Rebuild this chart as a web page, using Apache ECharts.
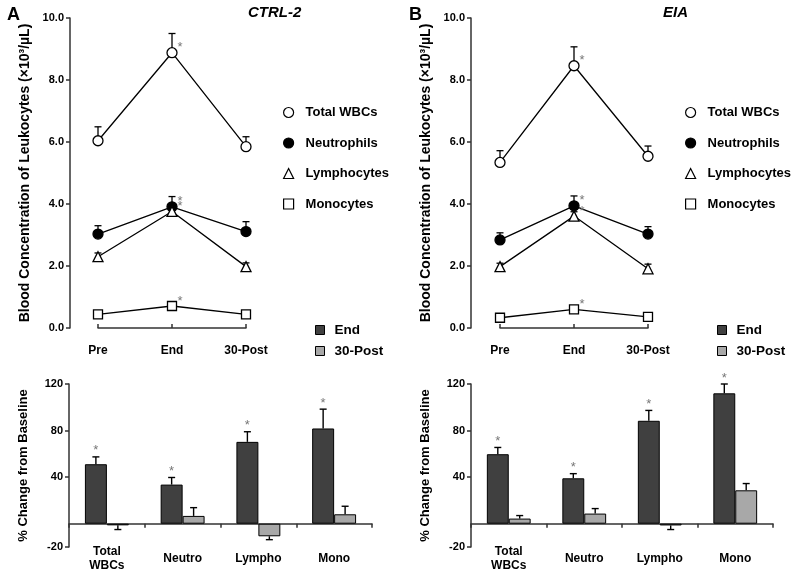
<!DOCTYPE html>
<html><head><meta charset="utf-8">
<script src="https://cdn.jsdelivr.net/npm/echarts@6/dist/echarts.min.js"></script>
<style>html,body{margin:0;padding:0;background:#fff}#c{width:800px;height:578px}</style>
</head><body><div id="c"></div>
<script>
// ---------- data ----------
const timeCats = ['Pre', 'End', '30-Post'];
const lineNames = ['Total WBCs', 'Neutrophils', 'Lymphocytes', 'Monocytes'];
// CTRL-2 (x10^3/uL): means and top of error bars
const ctrlTotal = [6.04, 8.88, 5.85];
const ctrlTotalErr = [6.49, 9.50, 6.17];
const ctrlNeutro = [3.03, 3.91, 3.11];
const ctrlNeutroErr = [3.30, 4.24, 3.43];
const ctrlLympho = [2.30, 3.76, 1.98];
const ctrlLymphoErr = [2.42, 3.88, 2.10];
const ctrlMono = [0.44, 0.71, 0.44];
const ctrlMonoErr = [0.50, 0.78, 0.50];
// EIA
const eiaTotal = [5.34, 8.46, 5.54];
const eiaTotalErr = [5.72, 9.07, 5.87];
const eiaNeutro = [2.84, 3.94, 3.03];
const eiaNeutroErr = [3.07, 4.26, 3.27];
const eiaLympho = [1.98, 3.61, 1.91];
const eiaLymphoErr = [2.09, 3.75, 2.06];
const eiaMono = [0.33, 0.60, 0.36];
const eiaMonoErr = [0.38, 0.66, 0.41];
const lineStarCats = [1]; // significant time points (End)

// % change from baseline
const barCats = ['Total\nWBCs', 'Neutro', 'Lympho', 'Mono'];
const barNames = ['End', '30-Post'];
const ctrlEnd = [51.1, 33.6, 70.3, 81.8];
const ctrlEndErr = [57.4, 39.7, 79.0, 98.4];
const ctrlPost = [-1.4, 6.7, -10.8, 8.1];
const ctrlPostErr = [-5.0, 13.8, -13.7, 15.0];
const eiaEnd = [59.7, 39.0, 88.4, 112.0];
const eiaEndErr = [65.5, 43.0, 97.3, 120.0];
const eiaPost = [4.4, 8.7, -1.5, 28.7];
const eiaPostErr = [7.0, 13.0, -5.0, 34.5];
const barStarCats = [0, 1, 2, 3];
const barTickValues = [-20, 40, 80, 120];

// ---------- styling ----------
const FF = 'Liberation Sans, Arial, Helvetica, sans-serif';
const AX = '#333';
const BAR_FRAC = 0.29;
const markerStyles = [
  { symbol: 'circle', size: 10, color: '#fff' },
  { symbol: 'circle', size: 10, color: '#000' },
  { symbol: 'triangle', size: 10, color: '#fff' },
  { symbol: 'rect', size: 9, color: '#fff' }
];

function errLine(params, api) {
  const p = api.coord([api.value(0), api.value(1)]);
  const t = api.coord([api.value(0), api.value(2)]);
  const hw = 3.5;
  const st = { stroke: '#000', lineWidth: 1.3 };
  return { type: 'group', children: [
    { type: 'line', shape: { x1: p[0], y1: p[1], x2: t[0], y2: t[1] }, style: st },
    { type: 'line', shape: { x1: t[0] - hw, y1: t[1], x2: t[0] + hw, y2: t[1] }, style: st }
  ]};
}
function errBar(side) {
  return function (params, api) {
    const c = api.coord([api.value(0), api.value(1)]);
    const t = api.coord([api.value(0), api.value(2)]);
    const bw = api.size([1, 0])[0] * BAR_FRAC;
    const x = c[0] + side * bw / 2;
    const hw = 3.5;
    const st = { stroke: '#000', lineWidth: 1.4 };
    return { type: 'group', children: [
      { type: 'line', shape: { x1: x, y1: c[1], x2: x, y2: t[1] }, style: st },
      { type: 'line', shape: { x1: x - hw, y1: t[1], x2: x + hw, y2: t[1] }, style: st }
    ]};
  };
}
function starLine(params, api) {
  const p = api.coord([api.value(0), api.value(1)]);
  return { type: 'text', x: p[0] + 8, y: p[1] - 5,
    style: { text: '*', fill: '#777', font: '13px ' + FF, align: 'center', verticalAlign: 'middle' } };
}
function starBar(params, api) {
  const c = api.coord([api.value(0), api.value(1)]);
  const bw = api.size([1, 0])[0] * BAR_FRAC;
  return { type: 'text', x: c[0] - bw / 2, y: c[1] - 6,
    style: { text: '*', fill: '#777', font: '13px ' + FF, align: 'center', verticalAlign: 'middle' } };
}

function lineSeries(gi, vals, errs) {
  const out = [];
  vals.forEach((v, k) => {
    out.push({
      type: 'custom', xAxisIndex: gi, yAxisIndex: gi, z: 1, silent: true,
      renderItem: errLine, encode: { x: 0, y: [1, 2] },
      data: v.map((d, i) => [i, d, errs[k][i]])
    });
    const m = markerStyles[k];
    out.push({
      type: 'line', name: lineNames[k], xAxisIndex: gi, yAxisIndex: gi, z: 3,
      data: v, symbol: m.symbol, symbolSize: m.size, showAllSymbol: true,
      lineStyle: { color: '#000', width: 1.3 },
      itemStyle: { color: m.color, borderColor: '#000', borderWidth: 1.3, opacity: 1 },
      emphasis: { disabled: true }, animation: false
    });
    out.push({
      type: 'custom', xAxisIndex: gi, yAxisIndex: gi, z: 4, silent: true,
      renderItem: starLine, encode: { x: 0, y: 1 },
      data: lineStarCats.map(i => [i, v[i]])
    });
  });
  return out;
}
function barSeries(gi, end, endErr, post, postErr) {
  return [
    { type: 'bar', name: 'End', xAxisIndex: gi, yAxisIndex: gi, data: end,
      barWidth: (BAR_FRAC * 100) + '%', barGap: '0%',
      itemStyle: { color: '#404040', borderColor: '#000', borderWidth: 1 }, z: 2, animation: false },
    { type: 'bar', name: '30-Post', xAxisIndex: gi, yAxisIndex: gi, data: post,
      barWidth: (BAR_FRAC * 100) + '%', barGap: '0%',
      itemStyle: { color: '#a8a8a8', borderColor: '#000', borderWidth: 1 }, z: 2, animation: false },
    { type: 'custom', xAxisIndex: gi, yAxisIndex: gi, z: 1, silent: true, renderItem: errBar(-1),
      encode: { x: 0, y: [1, 2] }, data: end.map((d, i) => [i, d, endErr[i]]) },
    { type: 'custom', xAxisIndex: gi, yAxisIndex: gi, z: 1, silent: true, renderItem: errBar(1),
      encode: { x: 0, y: [1, 2] }, data: post.map((d, i) => [i, d, postErr[i]]) },
    { type: 'custom', xAxisIndex: gi, yAxisIndex: gi, z: 4, silent: true, renderItem: starBar,
      encode: { x: 0, y: 1 }, data: barStarCats.map(i => [i, endErr[i]]) }
  ];
}

const lbl = { color: '#000', fontFamily: FF, fontWeight: 'bold' };
function topX(gi) {
  return { gridIndex: gi, type: 'category', data: timeCats, boundaryGap: false, offset: 8,
    axisLine: { show: true, lineStyle: { color: AX, width: 1.5 } },
    axisTick: { show: true, inside: true, length: 4, lineStyle: { color: AX, width: 1.5 } },
    axisLabel: Object.assign({ fontSize: 12, margin: 9 }, lbl), splitLine: { show: false } };
}
function topY(gi, off) {
  return { gridIndex: gi, type: 'value', min: 0, max: 10, interval: 2, offset: off,
    axisLine: { show: true, lineStyle: { color: AX, width: 1.5 } },
    axisTick: { show: true, length: 4, lineStyle: { color: AX, width: 1.5 } },
    axisLabel: Object.assign({ fontSize: 11, margin: 6, formatter: v => v.toFixed(1) }, lbl),
    splitLine: { show: false },
    name: 'Blood Concentration of Leukocytes (×10³/µL)', nameLocation: 'middle', nameGap: 38,
    nameTextStyle: Object.assign({ fontSize: 14 }, lbl) };
}
function botX(gi) {
  return { gridIndex: gi, type: 'category', data: barCats,
    axisLine: { show: true, onZero: true, lineStyle: { color: AX, width: 1.5 } },
    axisTick: { show: true, length: 4, alignWithLabel: false, lineStyle: { color: AX, width: 1.5 } },
    axisLabel: Object.assign({ fontSize: 12, interval: 0, margin: 12, verticalAlign: 'middle', lineHeight: 14 }, lbl),
    splitLine: { show: false } };
}
function botY(gi) {
  return { gridIndex: gi, type: 'value', min: -20, max: 120,
    axisLine: { show: true, lineStyle: { color: AX, width: 1.5 } },
    axisTick: { show: true, length: 4, customValues: barTickValues, lineStyle: { color: AX, width: 1.5 } },
    axisLabel: Object.assign({ fontSize: 11, margin: 6, customValues: barTickValues }, lbl),
    splitLine: { show: false },
    name: '% Change from Baseline', nameLocation: 'middle', nameGap: 39,
    nameTextStyle: Object.assign({ fontSize: 13 }, lbl) };
}
function lineLegend(left) {
  return { left: left, top: 106, orient: 'vertical', padding: 0, itemWidth: 10, itemHeight: 10, itemGap: 17.5,
    selectedMode: false,
    textStyle: Object.assign({ fontSize: 13, padding: [0, 0, 0, 7] }, lbl),
    data: lineNames.map((n, k) => ({ name: n, icon: markerStyles[k].symbol,
      itemStyle: { color: markerStyles[k].color, borderColor: '#000', borderWidth: 1.2 } })) };
}
function barLegend(left) {
  return { left: left, top: 323, orient: 'vertical', padding: 0, itemWidth: 9, itemHeight: 9, itemGap: 7,
    selectedMode: false,
    textStyle: Object.assign({ fontSize: 13.5, padding: [0, 0, 0, 5] }, lbl),
    data: [
      { name: 'End', icon: 'rect', itemStyle: { color: '#404040', borderColor: '#000', borderWidth: 1 } },
      { name: '30-Post', icon: 'rect', itemStyle: { color: '#a8a8a8', borderColor: '#000', borderWidth: 1 } }
    ] };
}

const chart = echarts.init(document.getElementById('c'), null, { renderer: 'canvas' });
chart.setOption({
  backgroundColor: '#fff',
  animation: false,
  title: [
    { text: 'A', left: 7, top: 6, padding: 0, textStyle: { fontSize: 18, fontWeight: 'bold', fontFamily: FF, color: '#000' } },
    { text: 'CTRL-2', left: 248, top: 5, padding: 0, textStyle: { fontSize: 15, fontWeight: 'bold', fontStyle: 'italic', fontFamily: FF, color: '#000' } },
    { text: 'B', left: 409, top: 6, padding: 0, textStyle: { fontSize: 18, fontWeight: 'bold', fontFamily: FF, color: '#000' } },
    { text: 'EIA', left: 663, top: 5, padding: 0, textStyle: { fontSize: 15, fontWeight: 'bold', fontStyle: 'italic', fontFamily: FF, color: '#000' } }
  ],
  grid: [
    { left: 98, top: 18, width: 148, height: 310, outerBoundsMode: 'none', containLabel: false },
    { left: 500, top: 18, width: 148, height: 310, outerBoundsMode: 'none', containLabel: false },
    { left: 69, top: 384, width: 303, height: 163, outerBoundsMode: 'none', containLabel: false },
    { left: 471, top: 384, width: 302, height: 163, outerBoundsMode: 'none', containLabel: false }
  ],
  xAxis: [topX(0), topX(1), botX(2), botX(3)],
  yAxis: [topY(0, 28), topY(1, 29), botY(2), botY(3)],
  legend: [lineLegend(283), lineLegend(685), barLegend(315), barLegend(717)],
  series: [].concat(
    lineSeries(0, [ctrlTotal, ctrlNeutro, ctrlLympho, ctrlMono], [ctrlTotalErr, ctrlNeutroErr, ctrlLymphoErr, ctrlMonoErr]),
    lineSeries(1, [eiaTotal, eiaNeutro, eiaLympho, eiaMono], [eiaTotalErr, eiaNeutroErr, eiaLymphoErr, eiaMonoErr]),
    barSeries(2, ctrlEnd, ctrlEndErr, ctrlPost, ctrlPostErr),
    barSeries(3, eiaEnd, eiaEndErr, eiaPost, eiaPostErr)
  )
});
</script></body></html>
